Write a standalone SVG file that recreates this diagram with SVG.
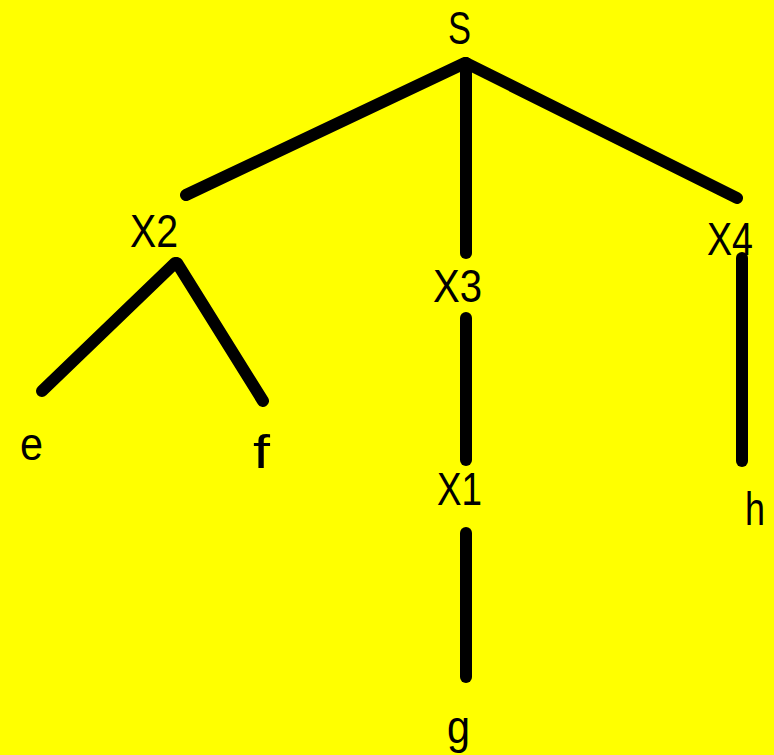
<svg xmlns="http://www.w3.org/2000/svg" width="774" height="755" viewBox="0 0 774 755">
<style>
.e{stroke:#000;stroke-width:12;stroke-linecap:round;fill:none}
text{font-family:"Liberation Sans",Arial,sans-serif;font-size:47px;fill:#000}
</style>
<rect width="774" height="755" fill="#ffff00"/>
<g id="connectors">
<line class="e" x1="465" y1="63" x2="186" y2="195"/>
<line class="e" x1="466" y1="63" x2="466" y2="253"/>
<line class="e" x1="466" y1="63" x2="737" y2="198"/>
<line class="e" x1="175" y1="263" x2="42" y2="391"/>
<line class="e" x1="177" y1="263" x2="263" y2="401"/>
<line class="e" x1="466" y1="318" x2="466" y2="460"/>
<line class="e" x1="466" y1="533" x2="466" y2="677"/>
<line class="e" x1="742" y1="258" x2="742" y2="461"/>
</g>
<g id="S"><text x="448" y="44" textLength="23" lengthAdjust="spacingAndGlyphs">S</text></g>
<g id="X2"><text x="130" y="247" textLength="48" lengthAdjust="spacingAndGlyphs">X2</text></g>
<g id="X3"><text x="433" y="302" textLength="49" lengthAdjust="spacingAndGlyphs">X3</text></g>
<g id="X4"><text x="707" y="255" textLength="46" lengthAdjust="spacingAndGlyphs">X4</text></g>
<g id="X1"><text x="437" y="505" textLength="45" lengthAdjust="spacingAndGlyphs">X1</text></g>
<g id="e"><text x="20" y="460" textLength="23" lengthAdjust="spacingAndGlyphs">e</text></g>
<g id="f"><text x="253" y="468" textLength="17" lengthAdjust="spacingAndGlyphs">f</text></g>
<g id="h"><text x="745" y="525" textLength="20" lengthAdjust="spacingAndGlyphs">h</text></g>
<g id="g"><text x="447" y="743" font-size="44" textLength="23" lengthAdjust="spacingAndGlyphs">g</text></g>
</svg>
